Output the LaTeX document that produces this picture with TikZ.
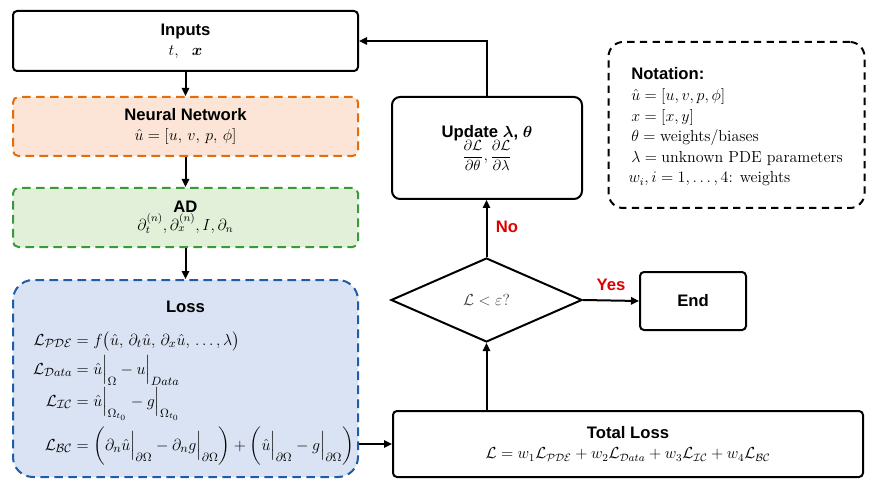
\documentclass[tikz,border=0pt]{standalone}
\usepackage{amsmath}
\usepackage{mathtools}
\usepackage{fontspec}
\setsansfont{Liberation Sans}
\usetikzlibrary{arrows.meta,shapes.geometric}
\definecolor{nnline}{HTML}{E46C0A}
\definecolor{nnfill}{HTML}{FCE4D6}
\definecolor{adline}{HTML}{3A9A3A}
\definecolor{adfill}{HTML}{E2F0D9}
\definecolor{lsline}{HTML}{1F5CAA}
\definecolor{lsfill}{HTML}{DAE3F3}
\definecolor{lblred}{HTML}{E00000}
\newcommand{\hdfont}{\sffamily\bfseries\fontsize{12.5}{15}\selectfont}
\begin{document}
\begin{tikzpicture}[x=0.75pt,y=-0.75pt,
  box/.style={draw, line width=1.5pt, rounded corners=3pt, align=center, inner sep=0pt,
    font=\fontsize{12}{15}\selectfont},
  dsh/.style={dash pattern=on 6.5pt off 4pt},
  hd/.style={font=\hdfont},
  arr/.style={line width=1.5pt, -{Triangle[length=6pt,width=5.5pt]}},
  lbl/.style={font=\hdfont, text=lblred},
  eqn/.style={anchor=base west, inner sep=0pt, font=\fontsize{12.5}{15}\selectfont},
  W/.style={minimum width=#1*0.75pt},
  H/.style={minimum height=#1*0.75pt}
]
\useasboundingbox (0,0) rectangle (876,492);

% Inputs
\node[box, W=345, H=60] (In) at (185.5,41)
  {{\hdfont Inputs}\\[0pt] $t,\ \ \boldsymbol{x}$};
% Neural network
\node[box, dsh, draw=nnline, fill=nnfill, rounded corners=4pt, W=345, H=59] (NN) at (185.5,126.5)
  {{\hdfont Neural Network}\\[0pt] {\fontsize{12.5}{15}\selectfont$\hat{u}=[u,\,v,\,p,\,\phi]$}};
% AD
\node[box, dsh, draw=adline, fill=adfill, rounded corners=4pt, W=345, H=59] (AD) at (185.5,217.5)
  {{\hdfont AD}\\[-2pt] $\partial_t^{(n)},\partial_x^{(n)},I,\partial_n$};
% Loss
\node[box, dsh, draw=lsline, fill=lsfill, rounded corners=15pt, W=345, H=197] (Loss) at (185.5,378.5) {};
\node[hd] (LossT) at (185.5,307) {Loss};
\node[eqn] (L1) at (72,345) {$\mathllap{\mathcal{L}_{\mathcal{PDE}}}= f\big(\hat{u},\,\partial_t\hat{u},\,\partial_x\hat{u},\,\ldots,\lambda\big)$};
\node[eqn] (L2) at (72,374) {$\mathllap{\mathcal{L}_{\mathcal{D}ata}}= \hat{u}\Big|_{\Omega}-u\Big|_{Data}$};
\node[eqn] (L3) at (72,406) {$\mathllap{\mathcal{L}_{\mathcal{IC}}}= \hat{u}\Big|_{\Omega_{t_0}}-g\Big|_{\Omega_{t_0}}$};
\node[eqn] (L4) at (72,450) {$\mathllap{\mathcal{L}_{\mathcal{BC}}}= \bigg(\partial_n\hat{u}\Big|_{\partial\Omega}-\partial_n g\Big|_{\partial\Omega}\bigg)+\bigg(\hat{u}\Big|_{\partial\Omega}-g\Big|_{\partial\Omega}\bigg)$};
% Total loss
\node[box, W=470, H=66] (TL) at (628,444)
  {{\hdfont Total Loss}\\[0pt]
   $\mathcal{L}=w_1\mathcal{L}_{\mathcal{PDE}}+w_2\mathcal{L}_{\mathcal{D}ata}+w_3\mathcal{L}_{\mathcal{IC}}+w_4\mathcal{L}_{\mathcal{BC}}$};
% Decision
\node[diamond, draw, line width=1.5pt, W=191, H=84, aspect=2.27, inner sep=0pt,
  font=\fontsize{13}{15}\selectfont, text=black!75] (Dec) at (486.5,300) {$\mathcal{L}<\varepsilon?$};
% End
\node[box, W=106, H=58] (End) at (693,301) {\hdfont End};
% Update
\node[box, rounded corners=6pt, W=190, H=102] (Upd) at (487,148)
  {{\hdfont Update $\boldsymbol{\lambda}$, $\boldsymbol{\theta}$}\\[-1pt]
   {\fontsize{11}{14}\selectfont$\dfrac{\partial\mathcal{L}}{\partial\theta},\dfrac{\partial\mathcal{L}}{\partial\lambda}$}};
% Notation
\node[draw, line width=1.5pt, dash pattern=on 5.5pt off 4pt, rounded corners=11pt, W=256, H=166, inner sep=0pt] (Not) at (736.5,125) {};
\node[anchor=base west, inner sep=0pt, font=\fontsize{12}{15.4}\selectfont] (NotT) at (631,80)
  {\begin{tabular}[t]{@{}l@{}}
   {\hdfont Notation:}\\
   $\hat{u}=[u,v,p,\phi]$\\
   $x=[x,y]$\\
   $\theta=\text{weights/biases}$\\
   $\lambda=\text{unknown PDE parameters}$\\
   $\!w_i,i=1,\ldots,4\text{: weights}$
   \end{tabular}};

% connectors
\draw[arr] (In.south) -- (NN.north);
\draw[arr] (NN.south) -- (AD.north);
\draw[arr] (AD.south) -- (Loss.north);
\draw[arr] (Loss.east |- TL.west) -- (TL.west);
\draw[arr] (Dec.south |- TL.north) -- (Dec.south);
\draw[arr] (Dec.north) -- (Dec.north |- Upd.south);
\draw[arr] (Upd.north) |- (In.east);
\draw[arr] (Dec.east) -- (End.west);
\node[lbl] (Yes) at (611,285) {Yes};
\node[lbl] (No) at (507,227) {No};
\end{tikzpicture}
\end{document}
